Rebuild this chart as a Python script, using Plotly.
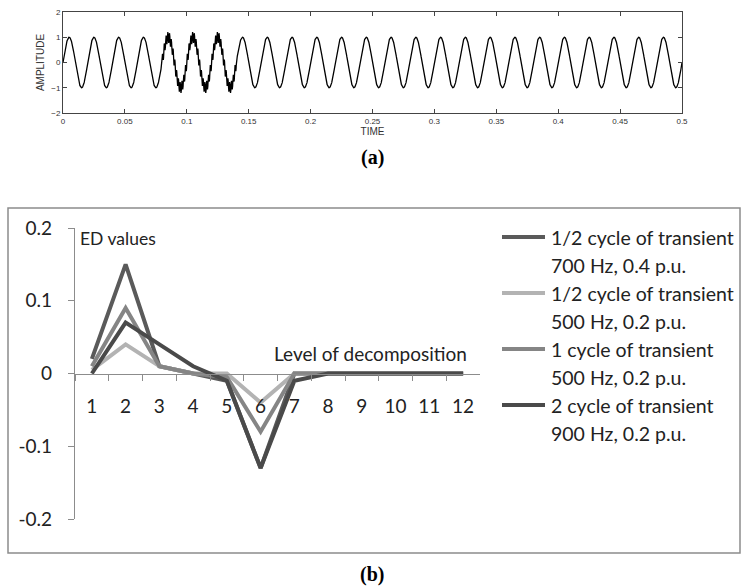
import numpy as np
import plotly.graph_objects as go

W, H = 744, 586
def px(x): return x / W
def py(y): return 1 - y / H

# ---------------- (a) waveform data (signal parameters)
SIG_FREQ = 50          # Hz fundamental
SIG_AMP = 1.0
TRANS_START = 0.08     # s
TRANS_END = 0.14       # s
TRANS_FREQ = 700       # Hz oscillatory transient
TRANS_AMP = 0.22
T_END = 0.5
time_ticks = [0, 0.05, 0.1, 0.15, 0.2, 0.25, 0.3, 0.35, 0.4, 0.45, 0.5]
time_tick_text = ["0", "0.05", "0.1", "0.15", "0.2", "0.25", "0.3", "0.35", "0.4", "0.45", "0.5"]
amp_ticks = [-2, -1, 0, 1, 2]

t = np.linspace(0, T_END, 5001)
sig = SIG_AMP * np.sin(2 * np.pi * SIG_FREQ * t)
mask = (t >= TRANS_START) & (t <= TRANS_END)
sig = sig + np.where(mask, TRANS_AMP * np.sin(2 * np.pi * TRANS_FREQ * (t - TRANS_START)), 0)

# ---------------- (b) ED values
levels = [str(i) for i in range(1, 13)]
ed_700_half = [0.02, 0.15, 0.01, 0.0, -0.01, -0.13, 0.0, 0.0, 0.0, 0.0, 0.0, 0.0]
ed_500_half = [0.005, 0.04, 0.01, 0.0, 0.0, -0.04, 0.0, 0.0, 0.0, 0.0, 0.0, 0.0]
ed_500_one = [0.01, 0.09, 0.01, 0.0, -0.005, -0.08, 0.0, 0.0, 0.0, 0.0, 0.0, 0.0]
ed_900_two = [0.0, 0.07, 0.04, 0.01, -0.01, -0.13, -0.01, 0.0, 0.0, 0.0, 0.0, 0.0]
series_names = [
    ["1/2 cycle of transient", "700 Hz, 0.4 p.u."],
    ["1/2 cycle of transient", "500 Hz, 0.2 p.u."],
    ["1 cycle of transient", "500 Hz, 0.2 p.u."],
    ["2 cycle of transient", "900 Hz, 0.2 p.u."],
]
series_vals = [ed_700_half, ed_500_half, ed_500_one, ed_900_two]
series_colors = ["#5a5a5a", "#b3b3b3", "#858585", "#4a4a4a"]
ed_ticks = [-0.2, -0.1, 0, 0.1, 0.2]
ed_tick_text = ["-0.2", "-0.1", "0", "0.1", "0.2"]

FONT_B = "Lato"
FONT_A = "Liberation Sans"

fig = go.Figure()
fig.add_trace(go.Scatter(x=t, y=sig, mode="lines", line=dict(color="black", width=1.3),
                         xaxis="x", yaxis="y", showlegend=False))
for vals, col, nm in zip(series_vals, series_colors, series_names):
    fig.add_trace(go.Scatter(x=levels, y=vals, mode="lines", line=dict(color=col, width=4),
                             xaxis="x2", yaxis="y2", name=" ".join(nm), showlegend=False))

# top axes
top_x0, top_x1, top_y0, top_y1 = 63, 682, 12, 113
ax_a = dict(showline=True, linecolor="#444", linewidth=1, mirror="ticks", ticks="inside",
            ticklen=4, tickcolor="#444", showgrid=False, zeroline=False, automargin=False,
            tickfont=dict(family=FONT_A, size=8, color="#333"))
fig.update_layout(
    xaxis=dict(domain=[px(top_x0), px(top_x1)], range=[0, T_END], anchor="y",
               tickvals=time_ticks, ticktext=time_tick_text,
               title=dict(text="TIME", font=dict(family=FONT_A, size=10, color="#333"), standoff=2),
               **ax_a),
    yaxis=dict(domain=[py(top_y1), py(top_y0)], range=[-2, 2], anchor="x",
               tickvals=amp_ticks,
               title=dict(text="AMPLITUDE", font=dict(family=FONT_A, size=10, color="#333"), standoff=4),
               **ax_a),
)

# bottom axes
b_x0, b_x1 = 75, 480
b_y_top, b_y_bot = 228, 519
yd = [py(b_y_bot), py(b_y_top)]
fig.update_layout(
    xaxis2=dict(domain=[px(b_x0), px(b_x1)], type="category", range=[-0.5, 11.5],
                anchor="free", position=(yd[0] + yd[1]) / 2, automargin=False,
                showline=True, linecolor="#8c8c8c", linewidth=1.3, ticks="outside",
                tickson="boundaries", ticklen=6, tickcolor="#8c8c8c",
                showgrid=False, zeroline=False, ticklabelstandoff=16,
                tickfont=dict(family=FONT_B, size=19, color="#222")),
    yaxis2=dict(domain=yd, range=[-0.2, 0.2], anchor="x2", automargin=False,
                tickvals=ed_ticks, ticktext=ed_tick_text,
                showline=True, linecolor="#8c8c8c", linewidth=1.3, ticks="outside",
                ticklen=6, tickcolor="#8c8c8c", showgrid=False, zeroline=False,
                ticklabelstandoff=12,
                tickfont=dict(family=FONT_B, size=19, color="#222")),
)

P = dict(xref="paper", yref="paper")
shapes = [dict(type="rect", x0=px(8), x1=px(740), y0=py(553), y1=py(208),
               line=dict(color="#8c8c8c", width=1.5), fillcolor="rgba(0,0,0,0)", layer="below", **P)]
annotations = [
    dict(text="ED values", x=px(78), y=py(238), xanchor="left", yanchor="middle", showarrow=False,
         font=dict(family=FONT_B, size=17.5, color="#222"), **P),
    dict(text="Level of decomposition", x=px(469), y=py(353), xanchor="right", yanchor="middle",
         showarrow=False, font=dict(family=FONT_B, size=19, color="#222"), **P),
    dict(text="<b>(a)</b>", x=px(372), y=py(157), xanchor="center", yanchor="middle", showarrow=False,
         font=dict(family="Liberation Serif", size=20, color="black"), **P),
    dict(text="<b>(b)</b>", x=px(372), y=py(574), xanchor="center", yanchor="middle", showarrow=False,
         font=dict(family="Liberation Serif", size=20, color="black"), **P),
]
leg_y = [237, 293, 349, 405]
for i, (nm, col) in enumerate(zip(series_names, series_colors)):
    y0 = leg_y[i]
    shapes.append(dict(type="line", x0=px(502), x1=px(545),
                       y0=py(y0), y1=py(y0), line=dict(color=col, width=4), **P))
    annotations.append(dict(text=nm[0], x=px(549), y=py(y0), xanchor="left", yanchor="middle",
                            showarrow=False, font=dict(family=FONT_B, size=19.5, color="#222"), **P))
    annotations.append(dict(text=nm[1], x=px(549), y=py(y0 + 28), xanchor="left", yanchor="middle",
                            showarrow=False, font=dict(family=FONT_B, size=19.5, color="#222"), **P))

fig.update_layout(width=W, height=H, autosize=False, margin=dict(l=0, r=0, t=0, b=0),
                  paper_bgcolor="white", plot_bgcolor="white", showlegend=False,
                  shapes=shapes, annotations=annotations)

fig.write_html("out.html")
